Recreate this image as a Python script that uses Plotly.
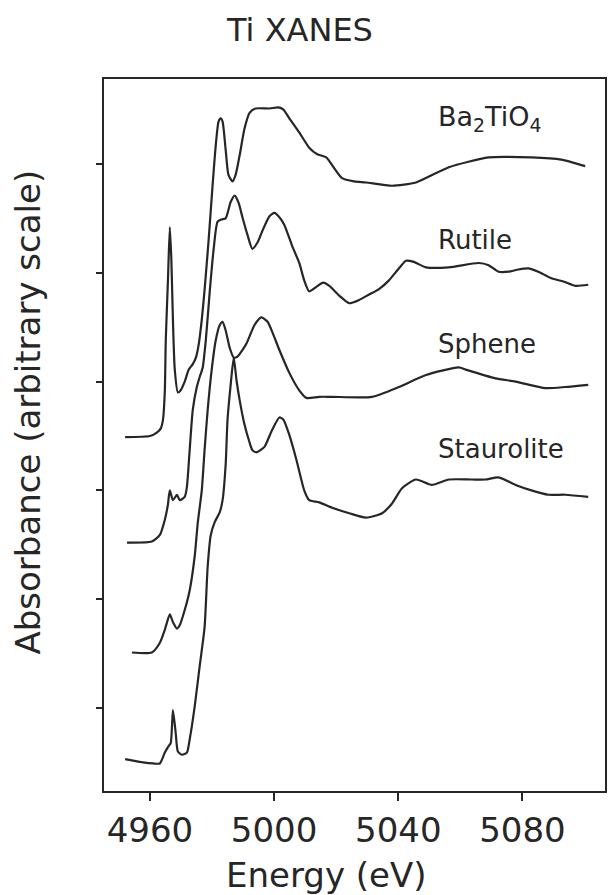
import plotly.graph_objects as go

# ---- data (energy in eV, absorbance in arbitrary offset units) ----
ba_e = [4952.0, 4960.0, 4962.2, 4963.5, 4964.2, 4964.8, 4965.1, 4965.8, 4966.4, 4966.9, 4967.4, 4968.0,
        4969.0, 4969.9, 4971.2, 4972.5, 4973.8, 4974.8, 4975.7, 4976.7, 4977.6, 4978.9, 4980.2, 4981.2,
        4982.1, 4982.8, 4983.4, 4984.4, 4985.3, 4986.6, 4987.6, 4988.9, 4990.5, 4992.1, 4994.0, 4998.5,
        5001.4, 5003.0, 5004.9, 5008.1, 5011.3, 5013.9, 5016.8, 5019.4, 5021.9, 5025.8, 5029.6, 5038.0,
        5045.7, 5056.3, 5069.1, 5082.9, 5092.5, 5100.2]
ba_a = [2.49, 2.50, 2.53, 2.57, 2.65, 2.92, 3.38, 3.93, 4.42, 4.12, 3.57, 3.11,
        2.90, 2.92, 3.00, 3.11, 3.16, 3.22, 3.34, 3.57, 3.84, 4.30, 4.81, 5.17,
        5.39, 5.42, 5.39, 5.13, 4.90, 4.84, 4.90, 5.08, 5.33, 5.47, 5.51, 5.51,
        5.52, 5.50, 5.42, 5.29, 5.15, 5.09, 5.06, 4.96, 4.87, 4.84, 4.83, 4.80,
        4.83, 4.97, 5.06, 5.06, 5.04, 4.98]

ru_e = [4952.6, 4960.6, 4963.2, 4964.8, 4965.8, 4966.4, 4967.4, 4968.7, 4969.6, 4971.2, 4971.9, 4972.8,
        4973.8, 4975.1, 4976.0, 4977.0, 4978.0, 4979.3, 4980.5, 4981.8, 4983.1, 4984.4, 4986.0, 4987.3,
        4988.6, 4989.8, 4991.4, 4993.0, 4994.7, 4996.3, 4998.5, 5000.1, 5001.7, 5003.3, 5005.9, 5008.1,
        5009.7, 5011.3, 5013.6, 5015.8, 5017.8, 5021.0, 5024.2, 5027.4, 5030.6, 5033.8, 5037.0, 5040.2,
        5042.5, 5045.0, 5048.9, 5056.3, 5065.9, 5069.1, 5072.3, 5075.5, 5078.7, 5081.9, 5085.1, 5089.3,
        5093.2, 5097.0, 5101.2]
ru_a = [1.52, 1.53, 1.59, 1.73, 1.87, 2.00, 1.91, 1.96, 1.91, 1.94, 2.03, 2.37,
        2.74, 2.95, 3.04, 3.13, 3.38, 3.84, 4.21, 4.47, 4.49, 4.50, 4.65, 4.71,
        4.64, 4.51, 4.35, 4.22, 4.28, 4.39, 4.52, 4.55, 4.51, 4.44, 4.24, 4.09,
        3.93, 3.83, 3.87, 3.91, 3.88, 3.79, 3.72, 3.75, 3.80, 3.85, 3.93, 4.04,
        4.11, 4.10, 4.05, 4.05, 4.09, 4.07, 4.01, 4.01, 4.03, 4.04, 4.01, 3.95,
        3.92, 3.88, 3.89]

sp_e = [4954.2, 4960.6, 4963.2, 4964.8, 4966.4, 4967.4, 4968.7, 4969.6, 4971.2, 4972.8, 4974.4, 4975.4,
        4976.7, 4977.6, 4978.6, 4979.9, 4981.2, 4982.5, 4983.4, 4984.4, 4985.7, 4987.0, 4988.2, 4989.8,
        4991.1, 4993.7, 4995.9, 4997.9, 4999.5, 5001.7, 5004.9, 5008.1, 5010.4, 5014.5, 5018.7, 5031.6,
        5040.2, 5048.9, 5059.5, 5061.7, 5071.3, 5077.8, 5087.4, 5093.8, 5101.2]
sp_a = [0.51, 0.51, 0.60, 0.72, 0.86, 0.79, 0.73, 0.76, 0.90, 1.08, 1.39, 1.70,
        2.00, 2.37, 2.74, 3.11, 3.38, 3.52, 3.55, 3.47, 3.31, 3.22, 3.23, 3.29,
        3.35, 3.52, 3.59, 3.55, 3.45, 3.29, 3.08, 2.92, 2.85, 2.86, 2.86, 2.86,
        2.95, 3.06, 3.13, 3.11, 3.03, 3.00, 2.94, 2.95, 2.97]

st_e = [4952.0, 4957.8, 4961.0, 4963.2, 4964.8, 4965.8, 4966.7, 4967.4, 4968.3, 4969.0, 4970.3, 4971.9,
        4972.8, 4974.4, 4976.0, 4977.6, 4978.6, 4979.6, 4980.9, 4982.5, 4983.4, 4984.4, 4985.0, 4986.0,
        4987.0, 4987.9, 4988.9, 4990.5, 4992.1, 4993.0, 4994.3, 4996.9, 4999.1, 5001.7, 5003.0, 5004.9,
        5007.2, 5009.7, 5011.3, 5014.5, 5018.7, 5024.2, 5029.6, 5034.8, 5038.0, 5041.2, 5045.7, 5050.8,
        5056.3, 5063.6, 5068.1, 5072.3, 5077.8, 5082.9, 5088.3, 5093.8, 5101.2]
st_a = [-0.47, -0.50, -0.51, -0.51, -0.41, -0.36, -0.32, -0.02, -0.23, -0.40, -0.43, -0.41,
        -0.29, 0.01, 0.38, 0.74, 1.30, 1.59, 1.71, 1.80, 1.91, 2.24, 2.65, 2.97,
        3.22, 3.01, 2.83, 2.60, 2.44, 2.37, 2.35, 2.40, 2.54, 2.67, 2.65, 2.51,
        2.28, 2.00, 1.91, 1.89, 1.84, 1.79, 1.75, 1.79, 1.88, 2.02, 2.10, 2.05,
        2.10, 2.10, 2.10, 2.12, 2.05, 2.00, 1.96, 1.96, 1.94]

series = [("Ba<sub>2</sub>TiO<sub>4</sub>", ba_e, ba_a),
          ("Rutile", ru_e, ru_a),
          ("Sphene", sp_e, sp_a),
          ("Staurolite", st_e, st_a)]

label_names = ["Ba<sub>2</sub>TiO<sub>4</sub>", "Rutile", "Sphene", "Staurolite"]
label_e = [5052.0, 5052.0, 5052.0, 5052.0]
label_a = [5.42, 4.30, 3.35, 2.38]

x_ticks = [4960, 5000, 5040, 5080]
y_ticks = [0, 1, 2, 3, 4, 5]

ink = "#262626"
font_family = "DejaVu Sans"

fig = go.Figure()
for name, e, a in series:
    fig.add_trace(go.Scatter(x=e, y=a, mode="lines", name=name,
                             line=dict(color=ink, width=2.2, shape="spline", smoothing=0.6),
                             showlegend=False, hoverinfo="skip"))

for nm, e, a in zip(label_names, label_e, label_a):
    fig.add_annotation(x=e, y=a, xref="x", yref="y", text=nm, showarrow=False,
                       xanchor="left", yanchor="middle",
                       font=dict(family=font_family, size=27 if "Ba" in nm else 26, color=ink))

fig.add_annotation(x=0.391, y=1.0685, xref="paper", yref="paper", text="Ti XANES",
                   showarrow=False, xanchor="center", yanchor="middle",
                   font=dict(family=font_family, size=32, color=ink))
fig.add_annotation(x=0.4433, y=-0.118, xref="paper", yref="paper", text="Energy (eV)",
                   showarrow=False, xanchor="center", yanchor="middle",
                   font=dict(family=font_family, size=34, color=ink))
fig.add_annotation(x=-0.151, y=0.532, xref="paper", yref="paper",
                   text="Absorbance (arbitrary scale)", textangle=-90,
                   showarrow=False, xanchor="center", yanchor="middle",
                   font=dict(family=font_family, size=34, color=ink))

fig.update_xaxes(range=[4945.2, 5106.6], tickmode="array", tickvals=x_ticks,
                 ticks="outside", ticklen=8, tickwidth=1.5, tickcolor=ink,
                 showline=True, linecolor=ink, linewidth=2, mirror=True,
                 showgrid=False, zeroline=False,
                 tickfont=dict(family=font_family, size=34, color=ink),
                 ticklabelstandoff=0)
fig.update_yaxes(range=[-0.763, 5.781], tickmode="array", tickvals=y_ticks,
                 ticks="outside", ticklen=6, tickwidth=1.5, tickcolor=ink,
                 showticklabels=False,
                 showline=True, linecolor=ink, linewidth=2, mirror=True,
                 showgrid=False, zeroline=False)

fig.update_layout(width=611, height=895, margin=dict(l=104, r=4, t=79, b=104),
                  paper_bgcolor="white", plot_bgcolor="white")

fig.write_html("out.html")
